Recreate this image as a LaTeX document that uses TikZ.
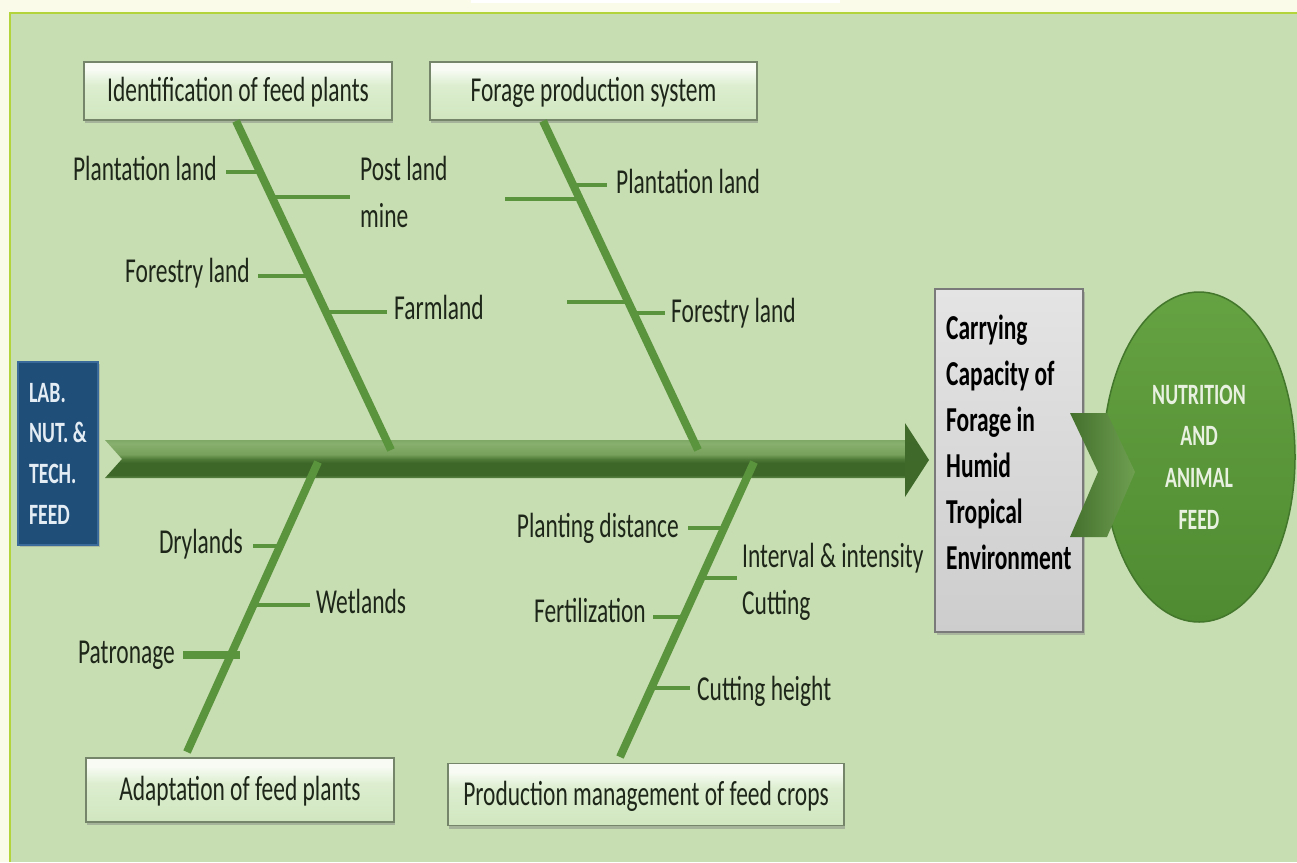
\documentclass[tikz,border=0pt]{standalone}
\usepackage{fontspec}
\setmainfont{Carlito}[FakeStretch=0.67]
\usetikzlibrary{shadows,shapes.geometric}

\definecolor{cream}{HTML}{FBFBEA}
\definecolor{panel}{HTML}{C7DDB2}
\definecolor{rim}{HTML}{B4D43C}
\definecolor{bonec}{HTML}{5A943C}
\definecolor{ink}{HTML}{1D2619}
\definecolor{bxT}{HTML}{F7FBF3}
\definecolor{bxM}{HTML}{DCEECF}
\definecolor{bxB}{HTML}{D0E6BF}
\definecolor{bxline}{HTML}{74856A}
\definecolor{spA}{HTML}{88AF6D}
\definecolor{spA2}{HTML}{7FA866}
\definecolor{spB}{HTML}{76A05B}
\definecolor{spC}{HTML}{4E7A37}
\definecolor{spD}{HTML}{3D6729}
\definecolor{spE}{HTML}{5C8746}
\definecolor{hdT}{HTML}{3F6A2A}
\definecolor{hdM}{HTML}{4A7633}
\definecolor{hdB}{HTML}{3E6829}
\definecolor{labblue}{HTML}{1F4E79}
\definecolor{labrim}{HTML}{3A6A9A}
\definecolor{labtext}{HTML}{E4ECF4}
\definecolor{ccT}{HTML}{E4E4E4}
\definecolor{ccB}{HTML}{CDCDCD}
\definecolor{ccline}{HTML}{7A7A7A}
\definecolor{ovT}{HTML}{65A242}
\definecolor{ovB}{HTML}{4F8B31}
\definecolor{ovline}{HTML}{43772B}
\definecolor{ovtext}{HTML}{E8F0E0}
\definecolor{chL}{HTML}{44702D}
\definecolor{chR}{HTML}{6E9F50}

% glossy fill of the category boxes
\pgfdeclareverticalshading{boxshade}{100bp}{color(0bp)=(bxB); color(25bp)=(bxB); color(55bp)=(bxM); color(68bp)=(bxT); color(100bp)=(bxT)}
% light upper half, dark lower half of the main spine
\pgfdeclareverticalshading{spineshade}{100bp}{color(0bp)=(spE); color(25bp)=(spE); color(29bp)=(spD); color(45bp)=(spD); color(50bp)=(spC); color(56bp)=(spB); color(70bp)=(spA); color(75bp)=(spA2); color(100bp)=(spA2)}

\begin{document}
\begin{tikzpicture}[x=1pt,y=-1pt,
  catbox/.style={draw=bxline, line width=1.5pt, shading=boxshade, inner sep=0pt,
    font=\fontsize{35}{48}\selectfont, text=ink, text height=21pt, text depth=0pt,
    drop shadow={shadow xshift=1pt, shadow yshift=-3pt, opacity=.45}},
  lab/.style={inner sep=0pt, font=\fontsize{35}{48}\selectfont, text=ink,
    text height=21pt, text depth=0pt},
  labtwo/.style={inner sep=0pt, font=\fontsize{35}{47}\selectfont, text=ink, align=left},
  bone/.style={draw=bonec, line width=8pt},
  twig/.style={draw=bonec, line width=4.5pt}]

\useasboundingbox (0,0) rectangle (1297,862);
\fill[cream] (0,0) rectangle (1297,862);
\fill[white] (471,0) rectangle (840,2.5);
\fill[panel] (10,13) rectangle (1297,862);
\draw[rim, line width=2.5pt] (10,862) -- (10,13) -- (1297,13);

% category boxes
\node[catbox, minimum width=308pt, minimum height=58pt] (cat1) at (238,91) {Identification of feed plants};
\node[catbox, minimum width=327pt, minimum height=58pt] (cat2) at (593.5,91) {Forage production system};
\node[catbox, minimum width=308pt, minimum height=64pt] (cat3) at (240,790) {Adaptation of feed plants};
\node[catbox, minimum width=396pt, minimum height=62pt] (cat4) at (646,794.5) {Production management of feed crops};

% spine
\path[shading=spineshade] (105,440) -- (906,440) -- (906,478) -- (105,478) -- (122,459) -- cycle;
\path[top color=hdT, middle color=hdM, bottom color=hdB] (905,423) -- (929,460) -- (905,497) -- cycle;

% bone ends
\coordinate (b1) at (236,121);
\coordinate (s1) at (391,450);
\coordinate (b2) at (543,121);
\coordinate (s2) at (698,450);
\coordinate (s3) at (318,462);
\coordinate (b3) at (187,752);
\coordinate (s4) at (754,462);
\coordinate (b4) at (620,757);

\draw[bone] (b1) -- (s1);
\draw[bone] (b2) -- (s2);
\draw[bone] (s3) -- (b3);
\draw[bone] (s4) -- (b4);

% causes on the first bone
\coordinate (t1) at (259.6,172);
\coordinate (t2) at (271.3,197);
\coordinate (t3) at (309,276);
\coordinate (t4) at (326,312);
\node[lab, anchor=east] (l1) at (217,170) {Plantation land};
\node[labtwo, anchor=west] (l2) at (360,192) {Post land\\mine};
\node[lab, anchor=east] (l3) at (250,272) {Forestry land};
\node[lab, anchor=west] (l4) at (394,309) {Farmland};
\draw[twig, shorten <=9pt] (t1 -| l1.east) -- (t1);
\draw[twig, shorten >=10pt] (t2) -- (t2 -| l2.west);
\draw[twig, shorten <=8pt] (t3 -| l3.east) -- (t3);
\draw[twig, shorten >=7pt] (t4) -- (t4 -| l4.west);

% causes on the second bone
\coordinate (t5) at (573.2,185);
\coordinate (f1a) at (505,199);
\coordinate (f1) at (579.7,199);
\coordinate (f2a) at (567,302);
\coordinate (f2) at (628.3,302);
\coordinate (t6) at (633.5,313);
\node[lab, anchor=west] (l5) at (616,183) {Plantation land};
\node[lab, anchor=west] (l6) at (671,312) {Forestry land};
\draw[twig, shorten >=9pt] (t5) -- (t5 -| l5.west);
\draw[twig] (f1a) -- (f1);
\draw[twig] (f2a) -- (f2);
\draw[twig, shorten >=6pt] (t6) -- (t6 -| l6.west);

% causes on the third bone
\coordinate (t7) at (280.1,546);
\coordinate (t8) at (253.4,605);
\coordinate (t9) at (240,655);
\node[lab, anchor=east] (l7) at (243,543) {Drylands};
\node[lab, anchor=west] (l8) at (316,603) {Wetlands};
\node[lab, anchor=east] (l9) at (175,653) {Patronage};
\draw[twig, shorten <=10pt] (t7 -| l7.east) -- (t7);
\draw[twig, shorten >=6pt] (t8) -- (t8 -| l8.west);
\draw[twig, line width=8pt, shorten <=8pt] (t9 -| l9.east) -- (t9);

% causes on the fourth bone
\coordinate (t10) at (724,528);
\coordinate (t11) at (701.3,578);
\coordinate (t12) at (683.6,617);
\coordinate (t13) at (651.4,688);
\node[lab, anchor=east] (l10) at (679,527) {Planting distance};
\node[labtwo, anchor=west] (l11) at (742,582) {Interval \& intensity\\Cutting};
\node[lab, anchor=east] (l12) at (646,612) {Fertilization};
\node[lab, anchor=west] (l13) at (697,690) {Cutting height};
\draw[twig, shorten <=9pt] (t10 -| l10.east) -- (t10);
\draw[twig, shorten >=5pt] (t11) -- (t11 -| l11.west);
\draw[twig, shorten <=7pt] (t12 -| l12.east) -- (t12);
\draw[twig, shorten >=7pt] (t13) -- (t13 -| l13.west);

% source box
\node[draw=labrim, line width=1.5pt, fill=labblue, minimum width=80pt, minimum height=183pt,
  inner sep=0pt, align=left, font=\bfseries\fontsize{29.5}{40.7}\selectfont, text=labtext,
  drop shadow={shadow xshift=2pt, shadow yshift=-2pt, opacity=.35}] (src) at (58,453.5)
  {LAB.\\NUT. \&\\TECH.\\FEED};

% effect box
\node[draw=ccline, line width=2pt, top color=ccT, bottom color=ccB, minimum width=148pt,
  minimum height=343pt, inner sep=0pt,
  drop shadow={shadow xshift=2pt, shadow yshift=-3pt, opacity=.4}] (cc) at (1009,460.5) {};
\node[anchor=north west, inner sep=0pt, align=left, font=\bfseries\fontsize{35}{46}\selectfont,
  text=black] (cctext) at (946,315)
  {Carrying\\Capacity of\\Forage in\\Humid\\Tropical\\Environment};

% goal
\node[ellipse, draw=ovline, line width=1.5pt, top color=ovT, bottom color=ovB,
  minimum width=192pt, minimum height=330pt, inner sep=0pt, align=center,
  font=\bfseries\fontsize{29.5}{41.7}\selectfont, text=ovtext] (goal) at (1199,457)
  {NUTRITION\\AND\\ANIMAL\\FEED};

% chevron linking effect and goal
\path[left color=chL, right color=chR] (1070,413) -- (1107,413) -- (1135,472) -- (1107,537)
  -- (1070,537) -- (1098,472) -- cycle;
\end{tikzpicture}
\end{document}
